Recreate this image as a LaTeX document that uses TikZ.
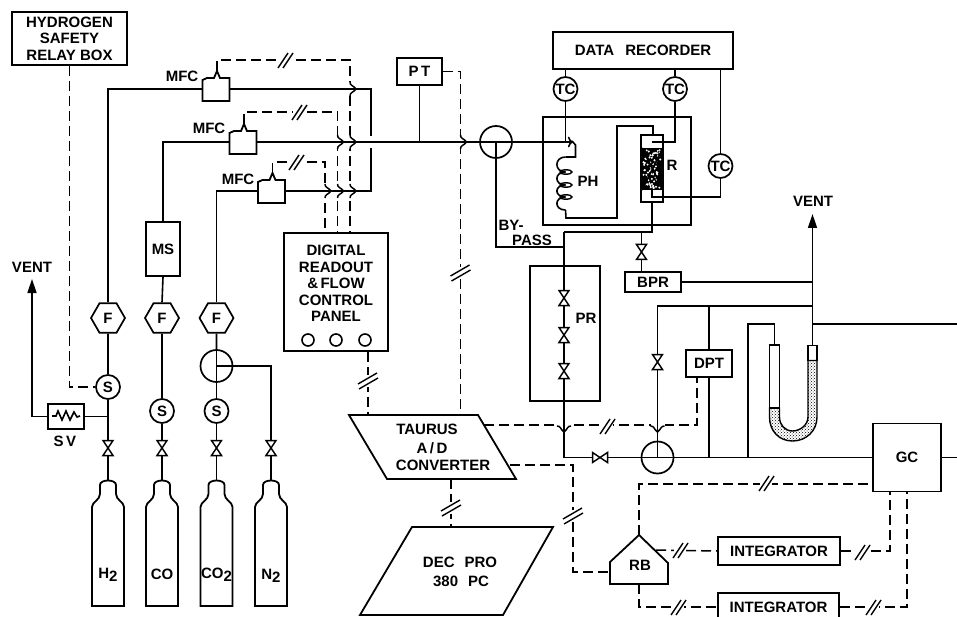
\documentclass[tikz,border=0pt]{standalone}
\usepackage{fontspec}
\setmainfont{Liberation Sans}
\usetikzlibrary{arrows.meta,patterns,shapes.geometric}

\newcommand{\lowtwo}{\raisebox{-3pt}{2}}

\tikzset{
  pipe/.style={line width=1.6pt},
  signal/.style={line width=1.5pt, dash pattern=on 10pt off 5pt},
  unit/.style={draw, rectangle, line width=1.8pt, align=center},
  gauge/.style={draw, circle, line width=1.7pt, minimum size=24pt, fill=white},
  rotary/.style={draw, circle, line width=1.7pt, minimum size=32pt},
  hexa/.style={draw, regular polygon, regular polygon sides=6, line width=1.7pt, minimum size=34pt, fill=white},
  vent/.style={pipe, -{Triangle[length=14pt,width=9pt]}},
  % small U bend of a signal line over a pipe
  hop/.pic={
    \draw[white, line width=3.5pt] (0,-7) -- (0,7);
    \draw[line width=1.5pt] (0,-7) .. controls (0,-3) and (3,-4) .. (6,0) .. controls (3,4) and (0,3) .. (0,7);
  },
  breakh/.pic={
    \draw[white, line width=5pt] (-6,0) -- (6,0);
    \draw[line width=1.4pt] (-7,8) -- (3,-7) (-2,8) -- (8,-7);
  },
  breakv/.pic={
    \draw[white, line width=5pt] (0,-6) -- (0,6);
    \draw[line width=1.4pt] (-10,3) -- (9,-8) (-9,8) -- (10,-3);
  },
  valve/.pic={
    \draw[line width=1.5pt, fill=white] (-5,-7.5) -- (5,-7.5) -- (-5,7.5) -- (5,7.5) -- cycle;
  },
  mfcbody/.pic={
    \draw[line width=1.8pt, fill=white] (-13.5,12) -- (-13.5,-9) -- (-9,-11) -- (-2,-11)
      .. controls (-1,-14) .. (1,-18) .. controls (3,-14) .. (4,-11) -- (13.5,-11) -- (13.5,12) -- cycle;
    \coordinate (-w) at (-13.5,0);
    \coordinate (-e) at (13.5,0);
    \coordinate (-tip) at (1,-18);
  },
  bottle/.pic={
    \draw[line width=1.8pt] (-16,0) -- (-16,-99) .. controls (-16,-104) and (-8,-106) .. (-8,-112)
      -- (-8,-121) .. controls (-8,-127) and (8,-127) .. (8,-121) -- (8,-112)
      .. controls (8,-106) and (16,-104) .. (16,-99) -- (16,0) -- cycle;
    \coordinate (-top) at (0,-125.5);
  },
}

\begin{document}
\begin{tikzpicture}[
  x=1pt, y=-1pt,
  every node/.style={font=\bfseries\fontsize{15}{16.5}\selectfont, inner sep=0pt},
]

\path[use as bounding box, clip] (0,0) rectangle (957,617);

% ---- Boxes ----
\node[unit, minimum width=115pt, minimum height=53pt] (relaybox) at (69.5,38.5)
  {HYDROGEN\\SAFETY\\RELAY BOX};
\node[unit, minimum width=34pt, minimum height=54pt] (ms) at (163,249) {MS};
\node[unit, minimum width=36pt, minimum height=25pt] (sv) at (66,416.5) {};
\node (svlabel) at (65,441) {S\,V};
\node[unit, minimum width=104pt, minimum height=118pt] (panel) at (336,292) {};
\node[align=center] (paneltext) at (336,283.5) {DIGITAL\\READOUT\\\&\,FLOW\\CONTROL\\PANEL};
\node[unit, minimum width=45pt, minimum height=27pt] (pt) at (419.5,71.5) {P\,T};
\node[unit, minimum width=180pt, minimum height=37pt] (recorder) at (643,50.5) {DATA\hspace{7pt} RECORDER};
\node[unit, minimum width=148pt, minimum height=108pt] (furnace) at (617,171) {};
\node[unit, minimum width=22pt, minimum height=67pt] (reactor) at (652,168.5) {};
\node (rlabel) at (672,165) {R};
\node (phlabel) at (588,181) {PH};
\node[unit, minimum width=56pt, minimum height=20pt] (bpr) at (653,282) {BPR};
\node[unit, minimum width=70pt, minimum height=135pt] (prbox) at (565,333.5) {};
\node (prlabel) at (586,318) {PR};
\node[unit, minimum width=46pt, minimum height=27pt] (dpt) at (709,363.5) {DPT};
\node[unit, minimum width=68pt, minimum height=68pt] (gc) at (907,457.5) {GC};
\node[unit, minimum width=122pt, minimum height=28pt] (integ1) at (779,551) {INTEGRATOR};
\node[unit, minimum width=121pt, minimum height=28pt] (integ2) at (778.5,607) {INTEGRATOR};
\node (bylabel) at (511,225) {BY-};
\node (passlabel) at (532,240) {PASS};
\node (ventl) at (32,267) {VENT};
\node (ventr) at (813,201) {VENT};
\node (mfclabel1) at (182,76) {MFC};
\node (mfclabel2) at (209,128) {MFC};
\node (mfclabel3) at (238,179) {MFC};

% ---- Panel lamps ----
\foreach \i/\x in {1/308,2/336,3/365} {
  \node[draw, circle, line width=1.6pt, minimum size=12pt] (lamp\i) at (\x,340) {};
}

% ---- Converter and computer ----
\draw[line width=1.8pt] (349,415) -- (478,415) -- (516,479) -- (387,479) -- cycle;
\node (conv1) at (427,429) {TAURUS};
\node (conv2) at (432,448) {A\,/\,D};
\node (conv3) at (443,465) {CONVERTER};
\draw[line width=1.8pt] (412,527) -- (553,527) -- (503,615) -- (360,615) -- cycle;
\node (dec1) at (460,562) {DEC\hspace{10pt}PRO};
\node (dec2) at (461,581) {380\hspace{10pt}PC};
\coordinate (conva) at (368,415);
\coordinate (convb) at (460.5,415);
\coordinate (convc) at (451,479);
\coordinate (convd) at (510,465);
\coordinate (conve) at (484,425);
\coordinate (dectop) at (451,527);

% ---- Recorder box RB ----
\draw[line width=1.8pt] (639,535) -- (668,563) -- (668,584) -- (610,584) -- (610,562) -- cycle;
\node (rblabel) at (640,565) {RB};
\coordinate (rbtip) at (639,535);
\coordinate (rbl) at (610,572);
\coordinate (rbr) at (656,550);
\coordinate (rbb) at (639,584);
\coordinate (rbturn) at (573,465);
\coordinate (gcw) at (873,484);
\coordinate (gca) at (890,491);
\coordinate (gcb) at (907,491);
\coordinate (dptout) at (697,377);

% ---- Mass flow controllers, cylinders ----
\pic (mfc1) at (216,89) {mfcbody};
\pic (mfc2) at (243,142) {mfcbody};
\pic (mfc3) at (271.5,191) {mfcbody};
\foreach \id/\x/\txt/\y in {h/108/H\lowtwo/575, c/162/CO/574, d/216.5/CO\lowtwo/575, n/271/N\lowtwo/576} {
  \pic (b\id) at (\x,606) {bottle};
  \node (lab\id) at (\x,\y) {\txt};
}
\foreach \id/\x in {1/108,2/162,3/216.5} {
  \node[hexa] (f\id) at (\x,318) {F};
}
\node[gauge] (s1) at (108,387) {S};
\node[gauge] (s2) at (162,411) {S};
\node[gauge] (s3) at (216.5,411) {S};
\node[rotary] (rot2) at (216.5,366) {};

% ---- Thermocouples and rotary valves ----
\node[gauge] (tc1) at (565.5,89) {TC};
\node[gauge] (tc2) at (675,89) {TC};
\node[gauge] (tc3) at (720.5,166) {TC};
\node[rotary] (rot1) at (496,142) {};
\node[rotary] (rot3) at (657.5,457.5) {};

% ---- Signal lines (dashed) ----
\coordinate (cross1) at (350,60);
\coordinate (cross2) at (337.5,112);
\coordinate (cross3) at (325,162);
\draw[signal] (mfc1-tip) |- (cross1) -- (cross1 |- panel.north);
\draw[signal] (mfc2-tip) |- (cross2) -- (cross2 |- panel.north);
\draw[signal] (mfc3-tip) |- (cross3) -- (cross3 |- panel.north);
\draw[signal] (relaybox.south) |- (s1.west);
\draw[signal] (pt.east) -| (convb);
\draw[signal] (panel.south -| conva) -- (conva);
\draw[signal] (convc) -- (dectop);
\draw[signal] (conve) -| (dptout);
\draw[signal] (convd) -- (rbturn) |- (rbl);
\draw[signal] (rbtip) |- (gcw);
\draw[signal] (rbr) -- (integ1.west);
\draw[signal] (rbb) |- (integ2.west);
\draw[signal] (integ1.east) -| (gca);
\draw[signal] (integ2.east) -| (gcb);

% ---- Hops of signals over pipes ----
\foreach \x/\y in {350/89,350/142,350/191,337.5/142,337.5/191,325/191,460.5/142} {
  \pic at (\x,\y) {hop};
}
\foreach \x in {564,657.5} {
  \pic[rotate=-90] at (\x,426) {hop};
}

% ---- Break marks ----
\foreach \x/\y in {285/60,299/112,296/162,607/426,766/483,680/550,862/552,678/607,873/607} {
  \pic at (\x,\y) {breakh};
}
\foreach \x/\y in {460.5/273,368/381,451/508,573/516} {
  \pic at (\x,\y) {breakv};
}

% ---- Gas supply pipes ----
\draw[pipe] (f1.north) |- (mfc1-w);
\draw[pipe] (f2.north) -- (ms.south);
\draw[pipe] (ms.north) |- (mfc2-w);
\draw[pipe] (f3.north) |- (mfc3-w);
\draw[pipe] (f1.south) -- (s1.north);
\draw[pipe] (s1.south) -- (bh-top);
\draw[pipe] (f2.south) -- (s2.north);
\draw[pipe] (s2.south) -- (bc-top);
\draw[pipe] (f3.south) -- (rot2.north);
\draw[pipe] (rot2.north) -- (s3.north);
\draw[pipe] (s3.south) -- (bd-top);
\draw[pipe] (rot2.center) -| (bn-top);
\draw[vent] (sv.west) -| (32,279);
\draw[pipe] (sv.east) -- (sv.east -| s1.south);
\draw[pipe] (52,416) -- (56,416) -- (58,411) -- (62,420) -- (66,411) -- (70,420) -- (74,412) -- (77,417) -- (80,416);

% ---- Feed lines to the rotary valve ----
\draw[pipe] (mfc1-e) -| (371,136);
\draw[pipe] (371,148) |- (mfc3-e);
\draw[pipe] (mfc2-e) -- (rot1.east);
\draw[pipe] (pt.south) -- (pt.south |- mfc2-e);
\coordinate (splitp) at (564,232);
\coordinate (bypin) at (564,247);
\draw[pipe] (rot1.center) |- (bypin);

% ---- Preheater coil ----
\draw[pipe, ->] (rot1.east) -- (573,142);
\draw[pipe] (tc1.south) -- (565.5,142);
\draw[pipe] (572,141) -- (575.5,145) -- (575.5,157) -- (565.5,157);
\foreach \ya/\yb in {157/172,172/185,185/197,197/210} {
  \draw[pipe] (565.5,\ya) .. controls (554,\ya) and (554,\yb) .. (565.5,\yb);
}
\foreach \cy in {172,185,197} {
  \draw[line width=1.4pt] (566,\cy) ellipse[x radius=6pt, y radius=2.2pt];
}
\draw[pipe] (565.5,210) -- (566,218) -- (617,218) -- (617,126) -- (653,126) -- (reactor.north -| 653,0);

% ---- Reactor ----
\fill[black] (642,148) rectangle (663,190);
\pgfmathsetseed{7}
\foreach \i in {1,...,70} {
  \pgfmathsetmacro{\fx}{652.5+9.5*rand}
  \pgfmathsetmacro{\fy}{169+19*rand}
  \fill[white] (\fx,\fy) circle[radius=1.1pt];
}
\draw[line width=1.6pt] (642,148) -- (663,190) (663,148) -- (642,190);
\draw[pipe] (tc2.south) |- (652,142);
\draw[pipe] (tc3.south) |- (652,197) -- (652,190);
\draw[pipe] (reactor.south) |- (splitp);
\coordinate (bprin) at (641.5,272);
\draw[pipe] (bprin |- splitp) -- (bprin);

% ---- Thermocouple leads to recorder ----
\draw[pipe] (tc1.north) -- (tc1.north |- recorder.south);
\draw[pipe] (tc2.north) -- (tc2.north |- recorder.south);
\draw[pipe] (tc3.north) -- (tc3.north |- recorder.south);

% ---- Main outlet ----
\draw[pipe] (splitp) |- (gc.west);
\draw[pipe] (gc.east) -- (957,457.5);
\coordinate (toprun) at (812.5,306);
\draw[pipe] (rot3.center) |- (toprun);
\draw[pipe] (dpt.north) -- (dpt.north |- toprun);
\draw[pipe] (dpt.south) -- (dpt.south |- rot3.center);

% ---- Manometer ----
\node[unit, line width=1.4pt, minimum width=10pt, minimum height=63pt] (legl) at (774.5,376.5) {};
\node[unit, line width=1.4pt, minimum width=9pt, minimum height=15pt] (legr) at (812.5,353) {};
\draw[line width=1.4pt, pattern=crosshatch dots] (769.5,408) -- (769.5,417)
  .. controls (769.5,431) and (779,441) .. (792.5,441)
  .. controls (806,441) and (817,431) .. (817,417) -- (817,360.5) -- (808,360.5) -- (808,417)
  .. controls (808,425) and (800,431) .. (792.5,431)
  .. controls (785,431) and (779.5,425) .. (779.5,417) -- (779.5,408) -- cycle;
\coordinate (manotee) at (748,324);
\draw[pipe] (legl.north) |- (manotee) -- (manotee |- gc.west);
\draw[vent] (legr.north) -- (812.5,214);
\draw[pipe] (bpr.east) -- (bpr.east -| legr.north);
\draw[pipe] (legr.north |- manotee) -- (957,324);

% ---- Valves ----
\foreach \x/\y/\r in {108/448/0, 162/448/0, 216.5/448/0, 271/448/0, 641.5/252/0,
                      564/298/0, 564/335/0, 564/371/0, 657.5/362/0, 600/457.5/90} {
  \pic[rotate=\r] at (\x,\y) {valve};
}

\end{tikzpicture}
\end{document}
